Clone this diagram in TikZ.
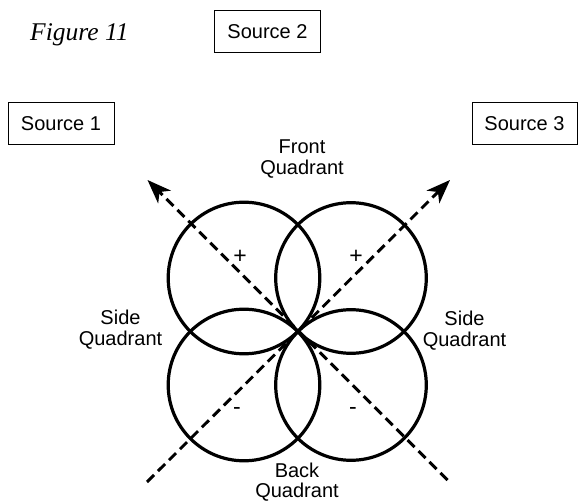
\documentclass[tikz,border=0pt]{standalone}
\usepackage{fontspec}
\setmainfont{Liberation Serif}
\setsansfont{Liberation Sans}
\usetikzlibrary{arrows.meta,calc}
\tikzset{
  lab/.style={font=\sffamily\fontsize{20}{21}\selectfont, inner sep=0pt, align=center},
  srcbox/.style={draw, line width=1pt, font=\sffamily\fontsize{20}{21}\selectfont, minimum height=42pt, inner sep=0pt},
  lobe/.style={line width=3.2pt},
  axis/.style={line width=2.9pt, dash pattern=on 10pt off 5.5pt},
  axisarrow/.style={axis, -{Stealth[length=24pt, width=18pt, inset=7pt]}},
  sign/.style={font=\sffamily\fontsize{23}{24}\selectfont, inner sep=0pt}
}
\begin{document}
\begin{tikzpicture}[x=1pt, y=-1pt]
\useasboundingbox (0,0) rectangle (578,502);
% title
\node[anchor=base west, inner sep=0pt, font=\itshape\fontsize{25.5}{27}\selectfont] (title) at (30,41) {Figure 11};
% sources
\node[srcbox, minimum width=106pt] (s2) at (267.5,32) {Source 2};
\node[srcbox, minimum width=106pt] (s1) at (61,124) {Source 1};
\node[srcbox, minimum width=105pt] (s3) at (524.5,124) {Source 3};
% centre and ends
\coordinate (c) at (298,331.5);
\coordinate (nw) at ($(c)+(-150.5,-151.5)$);
\coordinate (ne) at ($(c)+(152,-151.5)$);
\coordinate (sw) at ($(c)+(-151,150.5)$);
\coordinate (se) at ($(c)+(149.5,148.5)$);
% lobes
\coordinate (cul) at ($(c)+(-54,-53.5)$);
\coordinate (cur) at ($(c)+(53,-53.5)$);
\coordinate (cll) at ($(c)+(-54,53.5)$);
\coordinate (clr) at ($(c)+(53,53.5)$);
\draw[lobe] (cul) circle[radius=75.8];
\draw[lobe] (cur) circle[radius=75.3];
\draw[lobe] (cll) circle[radius=75.8];
\draw[lobe] (clr) circle[radius=75.3];
% axes
\draw[axisarrow] (se) -- (nw);
\draw[axisarrow] (sw) -- (ne);
% quadrant labels
\node[lab, anchor=north] (front) at (302,140) {Front\\Quadrant};
\node[lab, anchor=north] (lside) at (120.5,309.5) {Side\\Quadrant};
\node[lab, anchor=north] (rside) at (464.5,310.5) {Side\\Quadrant};
\node[lab, anchor=north, font=\sffamily\fontsize{20}{20}\selectfont] (back) at (297,463) {Back\\Quadrant};
% signs
\node[sign] (p1) at (240,257) {+};
\node[sign] (p2) at (356,257) {+};
\node[sign] (m1) at (237,411) {-};
\node[sign] (m2) at (353,411) {-};
\end{tikzpicture}
\end{document}
